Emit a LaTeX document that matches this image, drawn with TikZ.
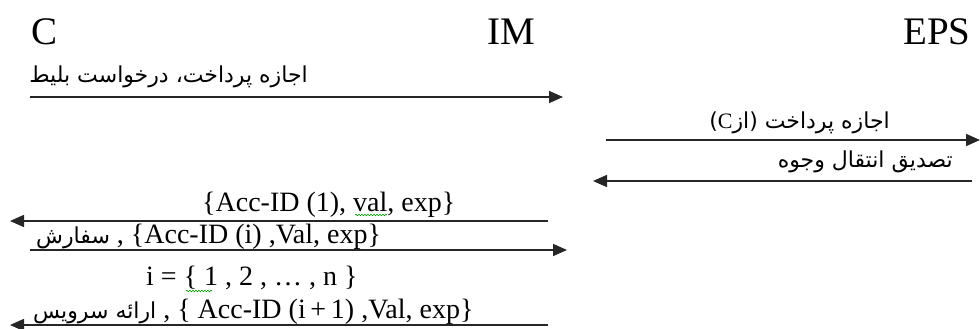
\documentclass[tikz,border=0pt]{standalone}
\usepackage{fontspec}
\setmainfont{Liberation Serif}
\newfontfamily\arabicfont[Script=Arabic]{DejaVu Sans}
\TeXXeTstate=1
\usetikzlibrary{arrows.meta,decorations.pathmorphing}
\newcommand\arsz{\arabicfont\fontsize{22}{24}\selectfont}
\begin{document}
\begin{tikzpicture}[x=1pt,y=-1pt,
  title/.style={inner sep=0pt,anchor=base west,font=\fontsize{39}{39}\selectfont},
  lab/.style={inner sep=0pt,anchor=base west,font=\fontsize{28}{28}\selectfont},
  alab/.style={inner sep=0pt,anchor=base east,font=\arsz},
  msg/.style={line width=1.6pt,draw=black!85,-{Triangle[length=14pt,width=12pt]}},
  spell/.style={draw=green!60!black,line width=0.6pt,decorate,decoration={snake,segment length=3pt,amplitude=0.8pt}}]
\useasboundingbox (0,0) rectangle (980,329);
% titles
\node[title] (C) at (31,45) {C};
\node[title] (IM) at (487,45) {IM};
\node[title] (EPS) at (903,45) {EPS};
% message end points
\coordinate (a1s) at (30,97);   \coordinate (a1e) at (563,97);
\coordinate (a2s) at (606,140); \coordinate (a2e) at (980,140);
\coordinate (a3s) at (972,181); \coordinate (a3e) at (593,181);
\coordinate (a4s) at (548,221); \coordinate (a4e) at (10,221);
\coordinate (a5s) at (30,250);  \coordinate (a5e) at (567,250);
\coordinate (a6s) at (548,325); \coordinate (a6e) at (10,325);
\draw[msg] (a1s) -- (a1e);
\draw[msg] (a2s) -- (a2e);
\draw[msg] (a3s) -- (a3e);
\draw[msg] (a4s) -- (a4e);
\draw[msg] (a5s) -- (a5e);
\draw[msg] (a6s) -- (a6e);
% labels
\node[alab] (l1) at (308,82) {\beginR اجازه پرداخت، درخواست بلیط\endR};
\node[alab] (l2) at (890,128) {\beginR اجازه پرداخت (از\textrm{C})\endR};
\node[alab] (l3) at (953,167) {\beginR تصدیق انتقال وجوه\endR};
\node[lab] (l4) at (202,211) {\{Acc-ID (1), val, exp\}};
\node[lab] (l5) at (36,243) {{\arsz\beginR سفارش\endR} , \{Acc-ID (i) ,Val, exp\}};
\node[lab] (l6) at (146,285) {i = \{ 1 , 2 , \dots\ , n \}};
\node[lab] (l7) at (33,318) {{\arsz\beginR ارائه سرویس\endR} , \{ Acc-ID (i\,+\,1) ,Val, exp\}};
% spelling marks
\draw[spell] (355,215) -- (387,215);
\draw[spell] (186,291) -- (212,291);
\end{tikzpicture}
\end{document}
